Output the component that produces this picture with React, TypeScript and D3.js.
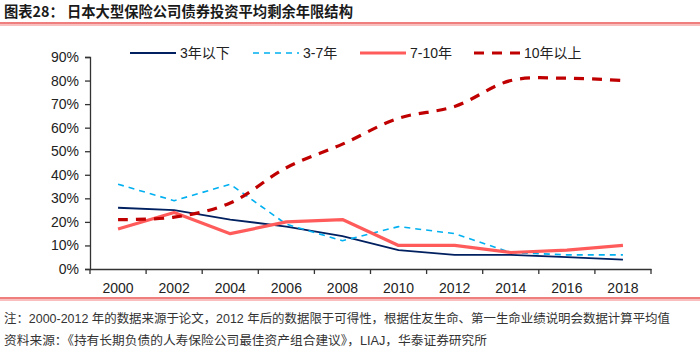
import React, { useEffect, useRef } from "react";
import * as d3 from "d3";

const years = ["2000", "2002", "2004", "2006", "2008", "2010", "2012", "2014", "2016", "2018"];
const under3 = [26, 25, 21, 18, 14, 8, 6, 6, 5, 4];
const from3to7 = [36, 29, 36, 19, 12, 18, 15, 7, 6, 6];
const from7to10 = [17, 24, 15, 20, 21, 10, 10, 7, 8, 10];
const over10 = [21, 22, 28, 43, 53, 64, 69, 80, 81, 80];
const yTicks = [0, 10, 20, 30, 40, 50, 60, 70, 80, 90];

const series = [
  { name: "3年以下", values: under3, color: "#002060", width: 1.8, dash: null, smooth: false },
  { name: "3-7年", values: from3to7, color: "#00B0F0", width: 1.6, dash: "6,5", smooth: false },
  { name: "7-10年", values: from7to10, color: "#FF5B5B", width: 3.2, dash: null, smooth: false },
  { name: "10年以上", values: over10, color: "#C00000", width: 3.2, dash: "10,8", smooth: true },
];

const latin = "'Liberation Sans', Arial, sans-serif";
const cjk = "'Liberation Sans', 'Noto Sans CJK SC', sans-serif";

const App = () => {
  const svgRef = useRef<SVGSVGElement>(null);

  useEffect(() => {
    const svg = d3.select(svgRef.current);
    svg.selectAll("*").remove();

    const left = 90, right = 651, top = 57, bottom = 269;

    const x = d3.scaleBand().domain(years).range([left, right]);
    const y = d3.scaleLinear().domain([0, 90]).range([bottom, top]);

    // title
    svg.append("text")
      .attr("x", 4).attr("y", 17)
      .attr("font-family", "'Noto Sans CJK SC', sans-serif")
      .attr("font-size", 14.3).attr("font-weight", "bold")
      .attr("fill", "#1a1a1a")
      .text("图表28：  日本大型保险公司债券投资平均剩余年限结构");

    svg.append("line").attr("x1", 0).attr("x2", 700).attr("y1", 23).attr("y2", 23)
      .attr("stroke", "#E00000").attr("stroke-width", 1.2);
    svg.append("line").attr("x1", 0).attr("x2", 700).attr("y1", 25).attr("y2", 25)
      .attr("stroke", "#F06060").attr("stroke-width", 0.8);

    // y axis
    const yAxis = svg.append("g")
      .attr("transform", `translate(${left},0)`)
      .call(d3.axisLeft(y).tickValues(yTicks).tickSize(5).tickFormat((d) => `${d}%`));
    yAxis.select(".domain").attr("stroke", "#333").attr("stroke-width", 1.3);
    yAxis.selectAll(".tick line").attr("stroke", "#333").attr("stroke-width", 1.3);
    yAxis.selectAll(".tick text").attr("font-family", latin).attr("font-size", 14)
      .attr("fill", "#222").attr("x", -11);

    // x axis
    const xAxis = svg.append("g")
      .attr("transform", `translate(0,${bottom})`)
      .call(d3.axisBottom(x).tickSize(0).tickSizeOuter(0));
    xAxis.select(".domain").attr("stroke", "#333").attr("stroke-width", 1.3);
    xAxis.selectAll(".tick text").attr("font-family", latin).attr("font-size", 14)
      .attr("fill", "#222").attr("dy", "1.5em");
    const bounds = [...years.map((yr) => x(yr) as number), right];
    svg.append("g").selectAll("line").data(bounds).enter().append("line")
      .attr("x1", (d) => d).attr("x2", (d) => d)
      .attr("y1", bottom).attr("y2", bottom + 5)
      .attr("stroke", "#333").attr("stroke-width", 1.3);

    // lines
    const cx = (i: number) => (x(years[i]) as number) + x.bandwidth() / 2;
    series.forEach((s) => {
      const line = d3.line<number>()
        .x((_, i) => cx(i))
        .y((d) => y(d))
        .curve(s.smooth ? d3.curveCatmullRom.alpha(0.5) : d3.curveLinear);
      svg.append("path")
        .attr("d", line(s.values))
        .attr("fill", "none")
        .attr("stroke", s.color)
        .attr("stroke-width", s.width)
        .attr("stroke-dasharray", s.dash)
        .attr("stroke-linejoin", "round");
    });

    // legend
    const legendX = [130, 253, 360, 474];
    series.forEach((s, i) => {
      const lx = legendX[i];
      svg.append("line")
        .attr("x1", lx).attr("x2", lx + 46)
        .attr("y1", 53).attr("y2", 53)
        .attr("stroke", s.color)
        .attr("stroke-width", s.width)
        .attr("stroke-dasharray", s.dash);
      svg.append("text")
        .attr("x", lx + 50).attr("y", 58)
        .attr("font-family", cjk).attr("font-size", 14)
        .attr("fill", "#222")
        .text(s.name);
    });

    // bottom rule and notes
    svg.append("line").attr("x1", 0).attr("x2", 700).attr("y1", 298).attr("y2", 298)
      .attr("stroke", "#E00000").attr("stroke-width", 1.2);
    svg.append("line").attr("x1", 0).attr("x2", 700).attr("y1", 300).attr("y2", 300)
      .attr("stroke", "#F06060").attr("stroke-width", 0.8);

    svg.append("text")
      .attr("x", 4).attr("y", 323)
      .attr("font-family", cjk).attr("font-size", 12.5).attr("fill", "#333")
      .attr("textLength", 666).attr("lengthAdjust", "spacingAndGlyphs")
      .text("注：2000-2012 年的数据来源于论文，2012 年后的数据限于可得性，根据住友生命、第一生命业绩说明会数据计算平均值");
    svg.append("text")
      .attr("x", 4).attr("y", 345)
      .attr("font-family", cjk).attr("font-size", 12.5).attr("fill", "#333")
      .attr("textLength", 483).attr("lengthAdjust", "spacingAndGlyphs")
      .text("资料来源：《持有长期负债的人寿保险公司最佳资产组合建议》，LIAJ，华泰证券研究所");
  }, []);

  return (
    <svg
      ref={svgRef}
      width={700}
      height={352}
      style={{ position: "absolute", left: 0, top: 0, background: "#fff" }}
    />
  );
};

export default App;
